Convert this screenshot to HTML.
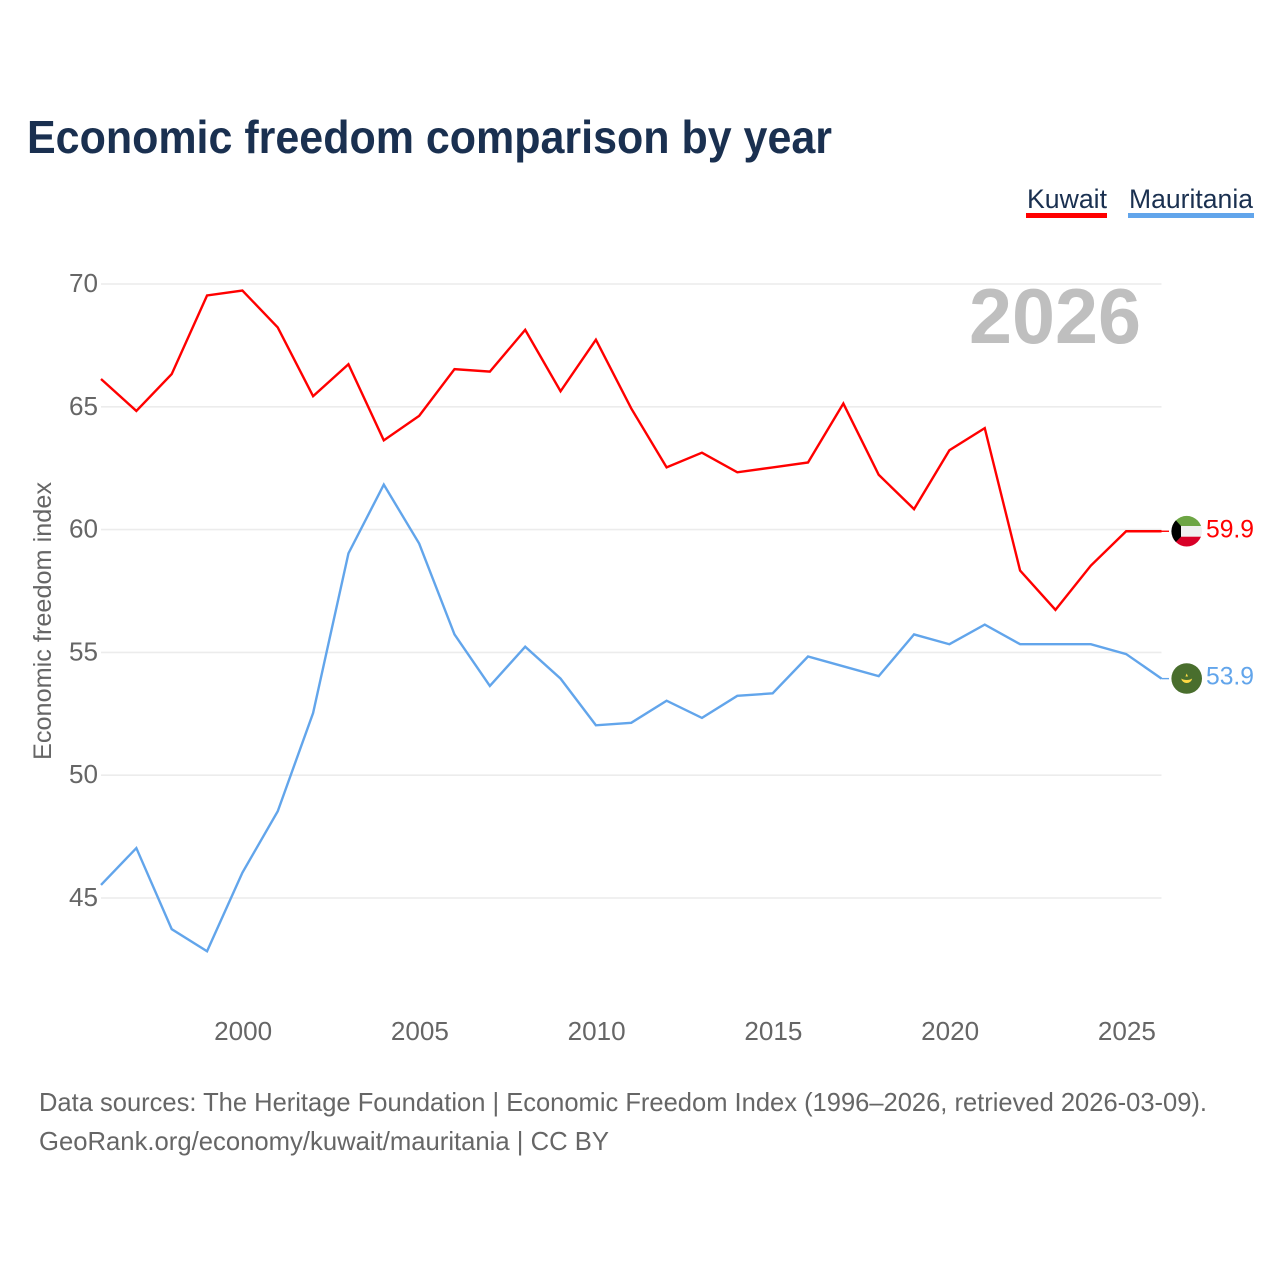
<!DOCTYPE html>
<html lang="en">
<head>
<meta charset="utf-8">
<title>Economic freedom comparison by year</title>
<style>
html,body{margin:0;padding:0;background:#fff;}
svg{display:block;font-family:"Liberation Sans",sans-serif;}
</style>
</head>
<body>
<svg id="chart" width="1280" height="1280" viewBox="0 0 1280 1280" xmlns="http://www.w3.org/2000/svg">
  <defs>
    <clipPath id="clip-kw"><circle cx="1186.7" cy="531.2" r="15.3"/></clipPath>
    <clipPath id="clip-mr"><circle cx="1186.7" cy="678.5" r="15.3"/></clipPath>
  </defs>
  <rect width="1280" height="1280" fill="#fff"/>
  <text x="27" y="153" font-size="46" font-weight="700" fill="#1a3050" textLength="805" lengthAdjust="spacingAndGlyphs">Economic freedom comparison by year</text>

  <g>
    <text x="1027" y="208" font-size="27" fill="#1a3050" textLength="80" lengthAdjust="spacingAndGlyphs">Kuwait</text>
    <rect x="1026" y="213" width="81" height="5" fill="#ff0000"/>
  </g>
  <g>
    <text x="1129" y="208" font-size="27" fill="#1a3050" textLength="124" lengthAdjust="spacingAndGlyphs">Mauritania</text>
    <rect x="1128" y="213" width="126" height="5" fill="#62a5eb"/>
  </g>

  <g id="grid"></g>
  <g id="y-ticks"></g>
  <g id="x-ticks"></g>

  <text transform="translate(51,760) rotate(-90)" font-size="25" fill="#666" textLength="278" lengthAdjust="spacingAndGlyphs">Economic freedom index</text>
  <text x="969" y="343" font-size="78" font-weight="700" fill="#bfbfbf" textLength="172" lengthAdjust="spacingAndGlyphs">2026</text>

  <g id="series"></g>

  <g clip-path="url(#clip-kw)">
    <rect x="1171" y="515" width="32" height="11" fill="#6da544"/>
    <rect x="1171" y="526" width="32" height="10.7" fill="#f0f0f0"/>
    <rect x="1171" y="536.7" width="32" height="11" fill="#d80027"/>
    <polygon points="1171,515 1171,547 1181,536.7 1181,526" fill="#000"/>
  </g>
  <g clip-path="url(#clip-mr)">
    <rect x="1171" y="663" width="32" height="32" fill="#496e2d"/>
    <path d="M1181.2 678.5 A5.6 5.6 0 0 0 1192.2 678.5 A7 3.8 0 0 1 1181.2 678.5 Z" fill="#ffda44"/>
    <polygon points="1186.7,673.5 1188,676.5 1185.4,676.5" fill="#ffda44"/>
  </g>

  <text id="end-kuwait" x="1206" y="537.5" font-size="25" fill="#ff0000" textLength="48" lengthAdjust="spacingAndGlyphs"></text>
  <text id="end-mauritania" x="1206" y="684.5" font-size="25" fill="#62a5eb" textLength="48" lengthAdjust="spacingAndGlyphs"></text>

  <text x="39" y="1111" font-size="26" fill="#666" textLength="1168" lengthAdjust="spacingAndGlyphs">Data sources: The Heritage Foundation | Economic Freedom Index (1996–2026, retrieved 2026-03-09).</text>
  <text x="39" y="1150" font-size="26" fill="#666" textLength="570" lengthAdjust="spacingAndGlyphs">GeoRank.org/economy/kuwait/mauritania | CC BY</text>
</svg>
<script>
const years = [1996,1997,1998,1999,2000,2001,2002,2003,2004,2005,2006,2007,2008,2009,2010,2011,2012,2013,2014,2015,2016,2017,2018,2019,2020,2021,2022,2023,2024,2025,2026];
const kuwait = [66.1,64.8,66.3,69.5,69.7,68.2,65.4,66.7,63.6,64.6,66.5,66.4,68.1,65.6,67.7,64.9,62.5,63.1,62.3,62.5,62.7,65.1,62.2,60.8,63.2,64.1,58.3,56.7,58.5,59.9,59.9];
const mauritania = [45.5,47.0,43.7,42.8,46.0,48.5,52.5,59.0,61.8,59.4,55.7,53.6,55.2,53.9,52.0,52.1,53.0,52.3,53.2,53.3,54.8,54.4,54.0,55.7,55.3,56.1,55.3,55.3,55.3,54.9,53.9];
const yTicks = [45,50,55,60,65,70];
const xTicks = [2000,2005,2010,2015,2020,2025];

const NS = 'http://www.w3.org/2000/svg';
function xScale(year){ return 101 + (year - 1996) * (1161.5 - 101) / 30; }
function yScale(value){ return 284 + (70 - value) * (898 - 284) / 25; }
function make(tag, attrs, parent){
  const el = document.createElementNS(NS, tag);
  for (const k in attrs) el.setAttribute(k, attrs[k]);
  parent.appendChild(el);
  return el;
}

const gridG = document.getElementById('grid');
const yG = document.getElementById('y-ticks');
const xG = document.getElementById('x-ticks');
const seriesG = document.getElementById('series');
const lineOffset = -0.8;

yTicks.forEach(function(t){
  const line = make('line', {x1:101, x2:1161.5, y1:yScale(t), y2:yScale(t), stroke:'#ececec', 'stroke-width':1.6}, gridG);
  
  
  const label = make('text', {x:98, y:yScale(t)+8, 'text-anchor':'end', 'font-size':26, fill:'#666', textLength:29, lengthAdjust:'spacingAndGlyphs'}, yG);
  
  
  label.textContent = t;
});

xTicks.forEach(function(t){
  const label = make('text', {x:xScale(t)+0.7, y:1040, 'text-anchor':'middle', 'font-size':26, fill:'#666', textLength:58, lengthAdjust:'spacingAndGlyphs'}, xG);
  
  
  label.textContent = t;
});

function drawSeries(values, color){
  const pts = values.map(function(v, i){ return xScale(years[i]).toFixed(2) + ',' + (yScale(v) + lineOffset).toFixed(2); }).join(' ');
  const line = make('polyline', {points:pts, fill:'none', stroke:color, 'stroke-width':2.4, 'stroke-linejoin':'miter'}, seriesG);
  
  
  const last = values[values.length - 1];
  const lead = make('line', {x1:xScale(years[years.length - 1]), x2:1169, y1:yScale(last) + lineOffset, y2:yScale(last) + lineOffset, stroke:color, 'stroke-width':1.4}, seriesG);
  
  
}
drawSeries(mauritania, '#62a5eb');
drawSeries(kuwait, '#ff0000');

document.getElementById('end-kuwait').textContent = kuwait[kuwait.length - 1].toFixed(1);
document.getElementById('end-mauritania').textContent = mauritania[mauritania.length - 1].toFixed(1);
</script>
</body>
</html>
